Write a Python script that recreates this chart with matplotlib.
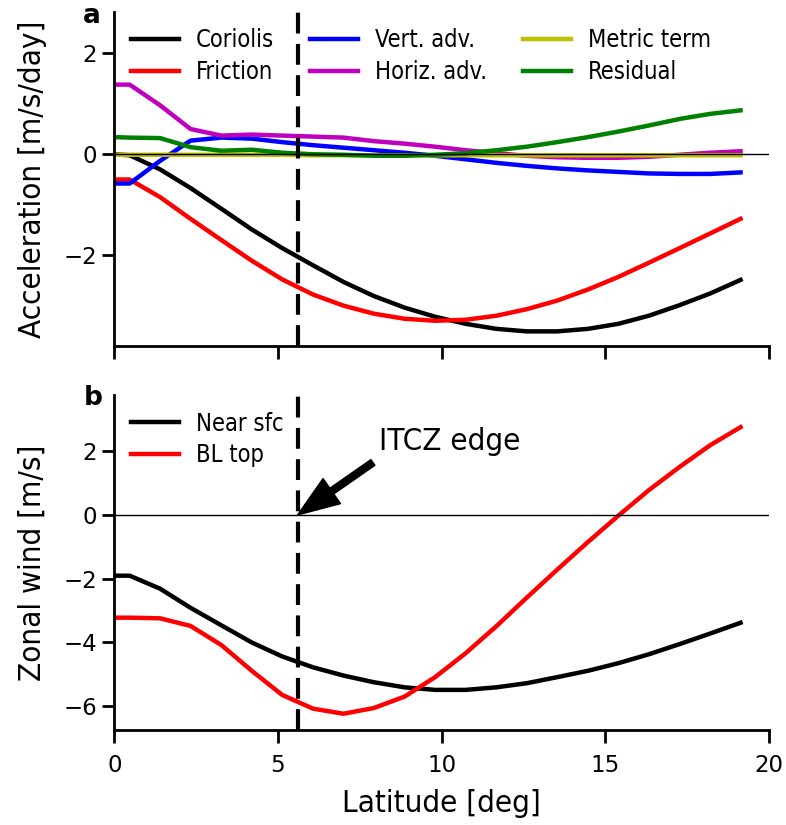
import matplotlib
matplotlib.use("Agg")
import matplotlib.pyplot as plt

lat = [0.0, 0.47, 1.40, 2.33, 3.27, 4.20, 5.13, 6.07, 7.00, 7.93, 8.87,
       9.80, 10.73, 11.67, 12.60, 13.53, 14.47, 15.40, 16.33, 17.27, 18.20, 19.13]

coriolis = [0.0, -0.02, -0.30, -0.67, -1.08, -1.49, -1.86, -2.20, -2.53, -2.81, -3.04,
            -3.22, -3.36, -3.46, -3.51, -3.51, -3.46, -3.36, -3.20, -2.99, -2.76, -2.49]
friction = [-0.50, -0.50, -0.85, -1.28, -1.70, -2.11, -2.48, -2.78, -3.00, -3.16, -3.26,
            -3.30, -3.28, -3.20, -3.07, -2.90, -2.68, -2.43, -2.15, -1.86, -1.57, -1.28]
vert_adv = [-0.58, -0.58, -0.13, 0.27, 0.33, 0.31, 0.24, 0.18, 0.13, 0.08, 0.03,
            -0.03, -0.10, -0.17, -0.23, -0.28, -0.32, -0.35, -0.38, -0.39, -0.39, -0.36]
horiz_adv = [1.38, 1.38, 0.97, 0.50, 0.37, 0.39, 0.37, 0.35, 0.33, 0.26, 0.21,
             0.15, 0.08, 0.02, -0.03, -0.06, -0.07, -0.07, -0.05, -0.01, 0.03, 0.06]
metric = [-0.01, -0.01, -0.01, -0.01, -0.01, -0.01, -0.01, -0.02, -0.02, -0.02, -0.02,
          -0.02, -0.02, -0.02, -0.02, -0.02, -0.02, -0.02, -0.02, -0.02, -0.02, -0.02]
residual = [0.34, 0.33, 0.32, 0.14, 0.07, 0.09, 0.03, 0.00, -0.01, -0.03, -0.03,
            -0.01, 0.02, 0.08, 0.15, 0.24, 0.34, 0.45, 0.57, 0.70, 0.80, 0.87]

near_sfc = [-1.91, -1.91, -2.32, -2.92, -3.47, -4.01, -4.45, -4.79, -5.05, -5.26, -5.42,
            -5.50, -5.50, -5.42, -5.29, -5.10, -4.90, -4.66, -4.38, -4.06, -3.73, -3.39]
bl_top = [-3.23, -3.23, -3.25, -3.49, -4.09, -4.90, -5.66, -6.09, -6.25, -6.07, -5.71,
          -5.10, -4.35, -3.50, -2.60, -1.72, -0.85, -0.02, 0.78, 1.51, 2.19, 2.76]

itcz_edge = 5.6
xticks = [0, 5, 10, 15, 20]
yticks_a = [-2, 0, 2]
yticks_b = [-6, -4, -2, 0, 2]

plt.rcParams['font.family'] = ['DejaVu Sans']
plt.rcParams['xtick.labelsize'] = 16.5
plt.rcParams['ytick.labelsize'] = 16.5

fig = plt.figure(figsize=(7.86, 8.25), dpi=100)
axa = fig.add_axes([0.1454, 0.5806, 0.8330, 0.4049])
axb = fig.add_axes([0.1454, 0.1152, 0.8330, 0.4060])

lw = 3.2
cond = dict(fontstretch='condensed')
leg_kw = dict(frameon=False, loc='upper left', prop=dict(size=17, stretch='condensed'),
              handlelength=2.05, handletextpad=0.72, borderaxespad=0.3, labelspacing=0.32)

axa.plot(lat, coriolis, color='k', lw=lw, label='Coriolis')
axa.plot(lat, friction, color='r', lw=lw, label='Friction')
axa.plot(lat, vert_adv, color='b', lw=lw, label='Vert. adv.')
axa.plot(lat, horiz_adv, color='m', lw=lw, label='Horiz. adv.')
axa.plot(lat, metric, color='y', lw=lw, label='Metric term')
axa.plot(lat, residual, color='g', lw=lw, label='Residual')
axa.axhline(0, color='k', lw=1)
axa.axvline(itcz_edge, color='k', lw=3, ls='--', dashes=(5, 2.5))
axa.set_xlim(0, 20)
axa.set_ylim(-3.8, 2.82)
axa.set_yticks(yticks_a)
axa.set_xticks(xticks)
axa.set_xticklabels([])
axa.set_ylabel('Acceleration [m/s/day]', fontsize=22.5, labelpad=12, **cond)
axa.legend(ncol=3, columnspacing=1.5, **leg_kw)

axb.plot(lat, near_sfc, color='k', lw=lw, label='Near sfc')
axb.plot(lat, bl_top, color='r', lw=lw, label='BL top')
axb.axhline(0, color='k', lw=1)
axb.axvline(itcz_edge, color='k', lw=3, ls='--', dashes=(5, 2.5))
axb.set_xlim(0, 20)
axb.set_ylim(-6.76, 3.77)
axb.set_yticks(yticks_b)
axb.set_xticks(xticks)
axb.set_ylabel('Zonal wind [m/s]', fontsize=22.5, labelpad=12, **cond)
axb.set_xlabel('Latitude [deg]', fontsize=22.5, labelpad=9, **cond)
axb.legend(**leg_kw)
axb.text(8.1, 2.3, 'ITCZ edge', fontsize=22.5, ha='left', va='center', **cond)
axb.annotate('', xy=(itcz_edge, 0.0), xytext=(7.9, 1.65),
             arrowprops=dict(facecolor='black', edgecolor='black', width=5, headwidth=22,
                             headlength=30, shrink=0))

for ax in (axa, axb):
    ax.spines['top'].set_visible(False)
    ax.spines['right'].set_visible(False)
    ax.spines['left'].set_linewidth(2)
    ax.spines['bottom'].set_linewidth(2)
    ax.tick_params(length=9, width=2, direction='out')
    ax.tick_params(axis='x', pad=8)

fig.text(0.106, 0.981, 'a', fontsize=19, fontweight='bold', ha='left', va='center')
fig.text(0.106, 0.517, 'b', fontsize=19, fontweight='bold', ha='left', va='center')

fig.savefig('out.png', dpi=100)
